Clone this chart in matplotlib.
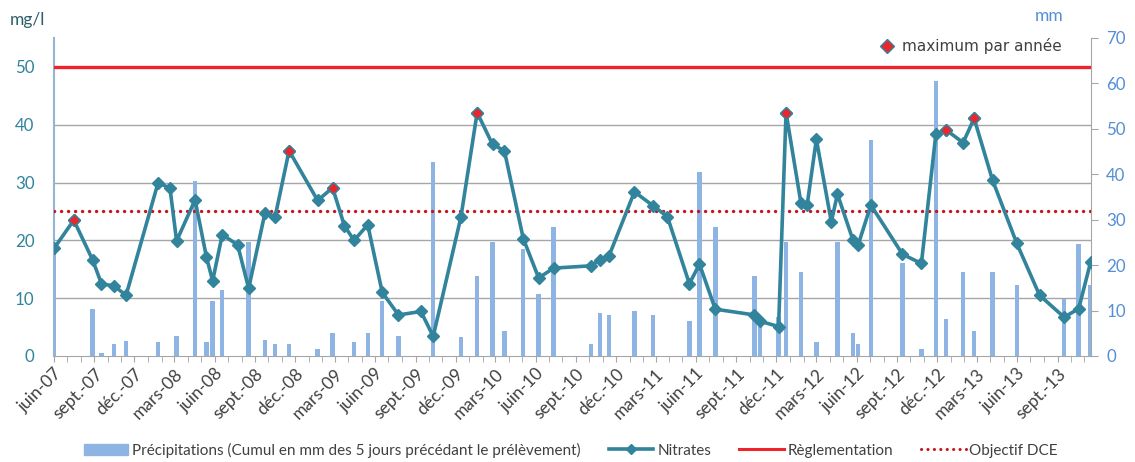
import numpy as np
import pandas as pd
import matplotlib
matplotlib.use('Agg')
import matplotlib.pyplot as plt
import matplotlib.dates as mdates
import matplotlib.transforms as mtransforms
from matplotlib.lines import Line2D
from matplotlib.patches import Patch
from matplotlib.ticker import FuncFormatter

# sampling dates, nitrates (mg/l) and rain of the 5 previous days (mm)
dates = ['2007-06-01', '2007-07-16', '2007-08-28', '2007-09-17', '2007-10-16', '2007-11-12',
         '2008-01-24', '2008-02-20', '2008-03-06', '2008-04-17', '2008-05-13', '2008-05-27',
         '2008-06-18', '2008-07-23', '2008-08-17', '2008-09-23', '2008-10-16', '2008-11-17',
         '2009-01-21', '2009-02-24', '2009-03-23', '2009-04-14', '2009-05-15', '2009-06-17',
         '2009-07-24', '2009-09-13', '2009-10-11', '2009-12-13', '2010-01-19', '2010-02-23',
         '2010-03-22', '2010-05-04', '2010-06-08', '2010-07-12', '2010-10-05', '2010-10-25',
         '2010-11-15', '2011-01-12', '2011-02-23', '2011-03-28', '2011-05-17', '2011-06-09',
         '2011-07-15', '2011-10-12', '2011-10-25', '2011-12-06', '2011-12-23', '2012-01-26',
         '2012-02-09', '2012-03-01', '2012-04-04', '2012-04-18', '2012-05-23', '2012-06-04',
         '2012-07-03', '2012-09-13', '2012-10-26', '2012-11-28', '2012-12-21', '2013-01-29',
         '2013-02-23', '2013-04-06', '2013-05-31', '2013-07-22', '2013-09-16', '2013-10-19',
         '2013-11-15']
nitrates = [18.6, 23.5, 16.6, 12.5, 12.1, 10.5,
            30.0, 29.0, 19.9, 27.0, 17.1, 13.0,
            21.0, 19.2, 11.7, 24.7, 24.0, 35.5,
            26.9, 29.1, 22.5, 20.0, 22.7, 11.0,
            7.1, 7.7, 3.4, 24.0, 42.1, 36.6,
            35.5, 20.3, 13.5, 15.2, 15.6, 16.6,
            17.3, 28.4, 26.0, 24.1, 12.5, 15.9,
            8.1, 7.1, 6.0, 5.1, 42.1, 26.4,
            26.1, 37.5, 23.2, 28.0, 20.1, 19.2,
            26.1, 17.6, 16.0, 38.4, 39.1, 36.9,
            41.1, 30.4, 19.5, 10.5, 6.7, 8.2,
            16.2]
precip = [23.0, 0, 10.3, 0.7, 2.6, 3.2,
          3.0, 0, 4.5, 38.5, 3.0, 12.0,
          14.5, 0, 25.0, 3.5, 2.6, 2.6,
          1.5, 5.1, 0, 3.1, 5.1, 12.0,
          4.5, 0, 42.6, 4.1, 17.6, 25.0,
          5.4, 23.5, 13.6, 28.5, 2.6, 9.5,
          9.0, 10.0, 9.0, 0, 7.6, 40.5,
          28.5, 17.6, 8.5, 8.5, 25.0, 18.5,
          0, 3.0, 0, 25.0, 5.0, 2.6,
          47.5, 20.5, 1.5, 60.5, 8.1, 18.6,
          5.6, 18.6, 15.6, 0, 12.6, 24.6,
          15.6]

reglementation = 50
objectif_dce = 25
mois = {3: 'mars', 6: 'juin', 9: 'sept.', 12: 'déc.'}

df = pd.DataFrame({'date': pd.to_datetime(dates), 'no3': nitrates, 'pluie': precip})
maxi = df.loc[df.groupby(df['date'].dt.year)['no3'].idxmax()]

teal = '#31849b'
bar_col = '#8eb4e3'
grey = '#a6a6a6'
plt.rcParams['font.family'] = ['Lato', 'DejaVu Sans']

fig = plt.figure(figsize=(11.35, 4.62), dpi=100)
ax = fig.add_axes([54/1135, 1-356/462, 1037/1135, 318/462])
ax2 = ax.twinx()
ax.set_zorder(ax2.get_zorder() + 1)
ax.patch.set_visible(False)

# gridlines at mg/l ticks, drawn under the bars
trans = mtransforms.blended_transform_factory(ax2.transAxes, ax.transData)
for v in [10, 20, 30, 40]:
    ax2.plot([0, 1], [v, v], transform=trans, color=grey, lw=1, zorder=0)

ax2.bar(df['date'], df['pluie'], width=10, color=bar_col, linewidth=0, zorder=2)
ax2.set_ylim(0, 70)
ax2.set_yticks(range(0, 71, 10))

ax.axhline(reglementation, color='#f0222a', lw=2.4, zorder=3)
ax.axhline(objectif_dce, color='#c8141c', lw=2.4, ls=(0, (0.05, 2.05)),
           dash_capstyle='round', zorder=3)
ax.plot(df['date'], df['no3'], color=teal, lw=2.6, marker='D', ms=6,
        mfc=teal, mec=teal, zorder=4)
ax.plot(maxi['date'], maxi['no3'], 'D', ms=6.5, mfc='#e8262b', mec=teal,
        mew=1, zorder=5)

ax.set_ylim(0, 55)
ax.set_yticks(range(0, 51, 10))
ax.set_xlim(pd.Timestamp('2007-06-01'), pd.Timestamp('2013-11-16'))

ax.xaxis.set_major_locator(mdates.MonthLocator(bymonth=[3, 6, 9, 12]))
ax.xaxis.set_minor_locator(mdates.MonthLocator())
ax.xaxis.set_major_formatter(FuncFormatter(
    lambda x, pos: f"{mois[mdates.num2date(x).month]}-{mdates.num2date(x).year % 100:02d}"))
ax.tick_params(axis='x', which='both', length=4, color=grey, labelsize=12.5,
               labelcolor='#404040', pad=3)
for lab in ax.get_xticklabels():
    lab.set_rotation(45)
    lab.set_ha('right')
    lab.set_rotation_mode('anchor')

ax.tick_params(axis='y', length=0, labelsize=12.2, labelcolor=teal, pad=14)
ax2.tick_params(axis='y', length=5, color=grey, labelsize=12.2, labelcolor='#558ed5', pad=6)
ax2.tick_params(axis='x', length=0)

for s in ['top', 'right']:
    ax.spines[s].set_visible(False)
for s in ['top', 'left', 'bottom']:
    ax2.spines[s].set_visible(False)
ax.spines['left'].set_color('#95b3d7')
ax.spines['left'].set_linewidth(1.5)
ax.spines['bottom'].set_color(grey)
ax2.spines['right'].set_color(grey)

fig.text(10/1135, 1-20/462, 'mg/l', fontsize=12.5, color='#2e5f6e', va='center')
fig.text(1035/1135, 1-16/462, 'mm', fontsize=12.5, color='#558ed5', va='center')

h_max = Line2D([], [], ls='none', marker='D', ms=7, mfc='#e8262b', mec=teal, mew=1)
fig.legend([h_max], ['maximum par année'], loc='center right',
           bbox_to_anchor=(1062/1135, 1-46/462), frameon=False, borderpad=0,
           borderaxespad=0, handlelength=1, handletextpad=0.5,
           prop={'family': 'DejaVu Sans', 'size': 11}, labelcolor='#404040')

handles = [Patch(color=bar_col),
           Line2D([], [], color=teal, lw=2.6, marker='D', ms=5),
           Line2D([], [], color='#f0222a', lw=2.2),
           Line2D([], [], color='#c8141c', lw=2.2, ls=(0, (0.05, 2.05)), dash_capstyle='round')]
labels = ['Précipitations (Cumul en mm des 5 jours précédant le prélèvement)',
          'Nitrates', 'Règlementation', 'Objectif DCE']
fig.legend(handles, labels, loc='center', bbox_to_anchor=(571/1135, 1-450/462),
           ncol=4, frameon=False, fontsize=11, handlelength=2.9, handletextpad=0.25,
           columnspacing=1.85, labelcolor='#404040')

fig.savefig('out.png', dpi=100)
